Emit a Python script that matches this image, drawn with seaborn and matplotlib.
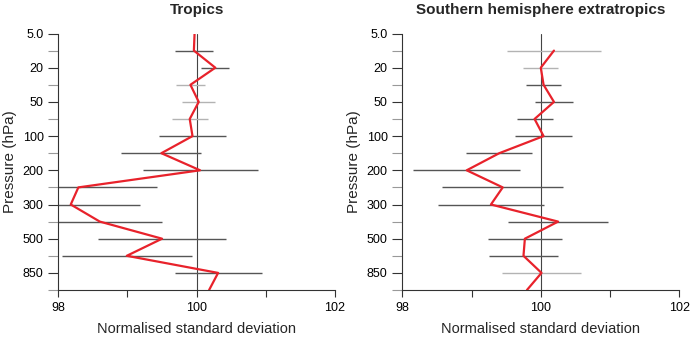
import matplotlib
matplotlib.use("Agg")
import matplotlib.pyplot as plt
import seaborn as sns
import pandas as pd
import numpy as np

levels = ["5.0", "10", "20", "30", "50", "70", "100", "150", "200", "250", "300", "400", "500", "700", "850", "1000"]
tick_labels = ["5.0", "20", "50", "100", "200", "300", "500", "850"]

trop_val = [99.97, 99.96, 100.27, 99.91, 100.03, 99.90, 99.94, 99.49, 100.05, 98.29, 98.18, 98.60, 99.50, 98.99, 100.31, 100.18]
trop_err = [None, 0.27, 0.20, 0.21, 0.24, 0.26, 0.48, 0.58, 0.83, 1.13, 1.00, 0.90, 0.92, 0.94, 0.63, None]
trop_light = [3, 4, 5]

sh_val = [None, 100.19, 100.00, 100.04, 100.19, 99.91, 100.04, 99.40, 98.93, 99.45, 99.28, 100.25, 99.77, 99.75, 100.01, 99.80]
sh_err = [None, 0.68, 0.25, 0.25, 0.27, 0.26, 0.41, 0.48, 0.77, 0.87, 0.76, 0.72, 0.53, 0.50, 0.57, None]
sh_light = [1, 2, 14]

sns.set_style("ticks")
plt.rcParams['font.family'] = ['Liberation Sans', 'DejaVu Sans']

fig = plt.figure(figsize=(6.9, 3.42), dpi=100)
W, H = 690, 342
ax1 = fig.add_axes([58.3 / W, 1 - 290 / H, (335 - 58.3) / W, (290 - 33.5) / H])
ax2 = fig.add_axes([402.3 / W, 1 - 290 / H, (679.3 - 402.3) / W, (290 - 33.5) / H])

def draw(ax, vals, errs, light, title):
    idx = np.arange(len(levels))
    for i, (v, e) in enumerate(zip(vals, errs)):
        if v is None or e is None:
            continue
        col = "#b3b3b3" if i in light else "#555555"
        ax.hlines(i, v - e, v + e, color=col, lw=1.0, zorder=2)
    ax.axvline(100, color="#444444", lw=0.8, zorder=1)
    df = pd.DataFrame({"val": vals, "lev": idx}).dropna()
    sns.lineplot(data=df, x="val", y="lev", sort=False, orient="y", ax=ax,
                 color="#e8222b", lw=1.6, zorder=3, clip_on=True)
    ax.set_xlim(98, 102)
    ax.set_ylim(15, 0)
    ax.set_xticks([98, 100, 102])
    ax.set_xticklabels(["98", "100", "102"])
    ax.set_xticks([99, 101], minor=True)
    ax.set_yticks(idx[0:15:2])
    ax.set_yticklabels(tick_labels)
    ax.set_yticks(idx[1:16:2], minor=True)
    ax.tick_params(axis="x", which="both", direction="out", length=5, width=0.8, colors="#333333", labelsize=9, labelcolor="black")
    ax.tick_params(axis="y", which="major", direction="out", length=7, width=0.8, colors="#333333", labelsize=9, labelcolor="black")
    ax.tick_params(axis="y", which="minor", direction="out", length=7, width=0.8, colors="#999999")
    for s in ["top", "right"]:
        ax.spines[s].set_visible(False)
    for s in ["left", "bottom"]:
        ax.spines[s].set_linewidth(0.8)
        ax.spines[s].set_color("#333333")
    ax.set_xlabel("Normalised standard deviation", fontsize=10.5, labelpad=6)
    ax.set_ylabel("Pressure (hPa)", fontsize=11, labelpad=4)
    ax.set_title(title, fontsize=11, fontweight="bold", pad=14)

draw(ax1, trop_val, trop_err, trop_light, "Tropics")
draw(ax2, sh_val, sh_err, sh_light, "Southern hemisphere extratropics")

fig.savefig("out.png", dpi=100)
